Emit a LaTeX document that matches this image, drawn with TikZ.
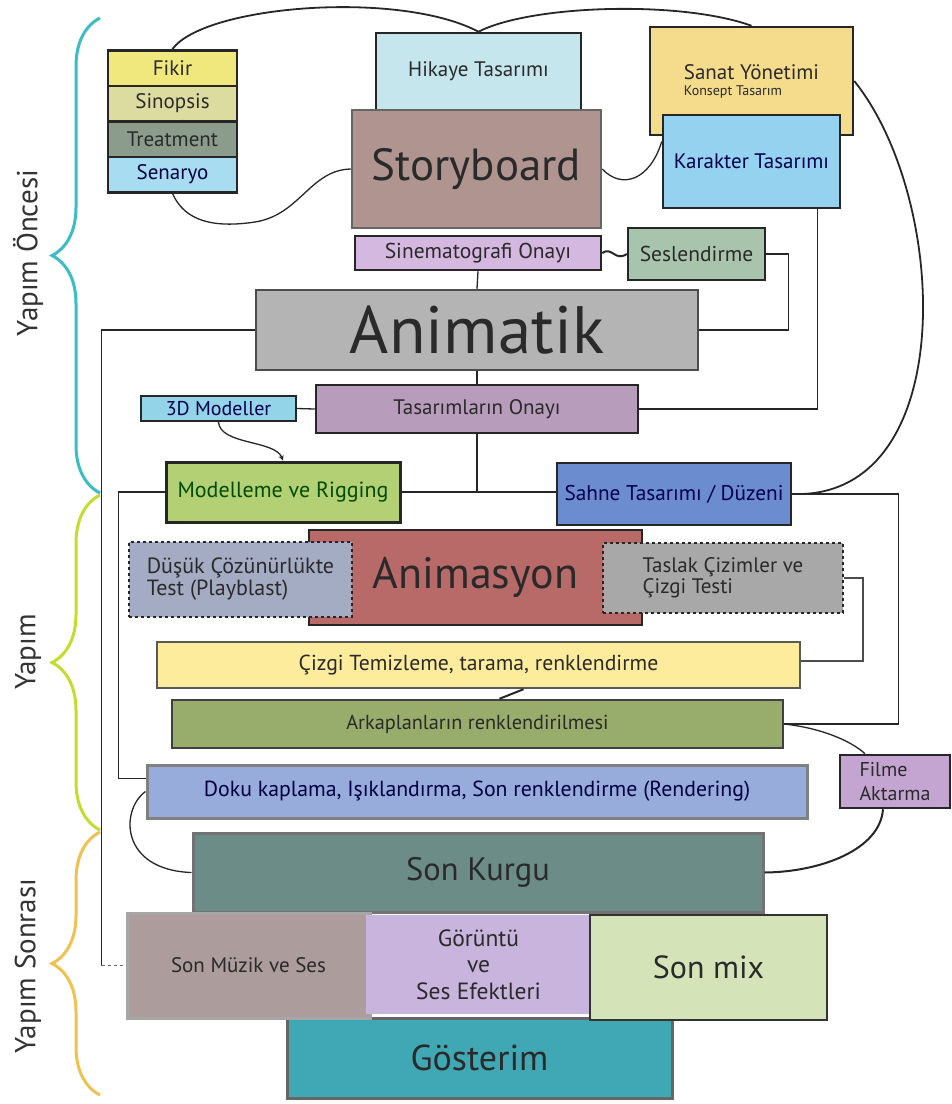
\documentclass[tikz,border=0pt]{standalone}
\usepackage{fontspec}
\setmainfont{PT Sans}
\usetikzlibrary{decorations.pathreplacing}

\definecolor{fikirC}{HTML}{F0E87C}
\definecolor{sinopsisC}{HTML}{DCDCA0}
\definecolor{treatmentC}{HTML}{8C9C8C}
\definecolor{senaryoC}{HTML}{A8DCF0}
\definecolor{hikayeC}{HTML}{C6E6EE}
\definecolor{storyC}{HTML}{B09490}
\definecolor{sanatC}{HTML}{F4DC8C}
\definecolor{karakterC}{HTML}{94D2F0}
\definecolor{sinemaC}{HTML}{D4B8E0}
\definecolor{seslenC}{HTML}{A8C4AC}
\definecolor{animatikC}{HTML}{B4B4B4}
\definecolor{modellerC}{HTML}{94D4E8}
\definecolor{tasarimC}{HTML}{B89CBC}
\definecolor{modellemeC}{HTML}{B4D074}
\definecolor{sahneC}{HTML}{6C8CD0}
\definecolor{animasyonC}{HTML}{B86A68}
\definecolor{dusukC}{HTML}{A4ACC4}
\definecolor{taslakC}{HTML}{A8A8A8}
\definecolor{cizgiC}{HTML}{FCEC9C}
\definecolor{arkaplanC}{HTML}{98AC6C}
\definecolor{dokuC}{HTML}{98ACDC}
\definecolor{filmeC}{HTML}{C4A4D0}
\definecolor{kurguC}{HTML}{6C8C88}
\definecolor{muzikC}{HTML}{AC9C9C}
\definecolor{goruntuC}{HTML}{C8B4DC}
\definecolor{mixC}{HTML}{D4E4B8}
\definecolor{gosterimC}{HTML}{40A8B4}
\definecolor{onceC}{HTML}{3CBCC4}
\definecolor{yapimC}{HTML}{C4DC2C}
\definecolor{sonraC}{HTML}{F0C050}
\definecolor{inkC}{HTML}{2A2A2A}

\begin{document}
\begin{tikzpicture}[x=1pt, y=-1pt,
  box/.style={draw=black!85, line width=2.5pt, inner sep=2pt, align=center, text=inkC},
  pale/.style={box, draw=black!50, line width=3pt},
  dashbox/.style={box, dashed, line width=2pt},
  link/.style={black!85, line width=1.3pt},
  fs/.style={font=\fontsize{#1}{#1}\selectfont},
  phase/.style={decorate, decoration={brace, amplitude=48pt}, line width=3pt}]
  \useasboundingbox (0,0) rectangle (952,1104);

  % Phase braces and their titles
  \draw[phase, draw=onceC] (100,493) -- (100,18);
  \draw[phase, draw=yapimC] (100,830) -- (100,495);
  \draw[phase, draw=sonraC] (100,1095) -- (100,832);
  \node[rotate=90, fs=29, text=black!80] (once) at (28,253) {Yapım Öncesi};
  \node[rotate=90, fs=29, text=black!80] (yapim) at (28,652) {Yapım};
  \node[rotate=90, fs=29, text=black!80] (sonra) at (28,966) {Yapım Sonrası};

  % Script stack
  \node[box, fill=fikirC, minimum width=129pt, minimum height=35.5pt, fs=21] (fikir) at (172.5,68) {Fikir};
  \node[box, fill=sinopsisC, minimum width=129pt, minimum height=35.5pt, fs=21] (sinopsis) at (172.5,103.5) {Sinopsis};
  \node[box, fill=treatmentC, minimum width=129pt, minimum height=35.5pt, fs=21] (treatment) at (172.5,139) {Treatment};
  \node[box, fill=senaryoC, minimum width=129pt, minimum height=35.5pt, fs=21, text=black!75!blue] (senaryo) at (172.5,174.5) {Senaryo};

  % Pre-production boxes
  \node[box, fill=hikayeC, minimum width=205pt, minimum height=77pt, fs=21] (hikaye) at (478.5,71.5) {Hikaye Tasarımı};
  \node[box, draw=black!60, fill=storyC, minimum width=249pt, minimum height=118pt, fs=45] (story) at (476.5,169) {Storyboard};
  \node[box, fill=sanatC, minimum width=203pt, minimum height=108pt, align=left] (sanat) at (751.5,81)
    {\fontsize{21}{21}\selectfont Sanat Yönetimi\\[4pt]\fontsize{14}{14}\selectfont Konsept Tasarım};
  \node[box, fill=karakterC, minimum width=177pt, minimum height=93pt, fs=21, text=black!70!blue] (karakter) at (751.5,161.5) {Karakter Tasarımı};
  \node[box, fill=sinemaC, minimum width=246pt, minimum height=34pt, fs=21.5] (sinema) at (478,253) {Sinematografi Onayı};
  \node[box, fill=seslenC, minimum width=137pt, minimum height=52pt, fs=21.5] (seslen) at (696.5,254) {Seslendirme};
  \node[box, draw=black!70, fill=animatikC, minimum width=442pt, minimum height=80pt, fs=67] (animatik) at (477,330) {Animatik};
  \node[box, line width=2pt, fill=modellerC, minimum width=155pt, minimum height=25pt, fs=20, text=black!70!blue] (modeller) at (218.5,408.5) {3D Modeller};
  \node[box, fill=tasarimC, minimum width=322pt, minimum height=48pt, fs=21] (tasarim) at (477,409) {Tasarımların Onayı};

  % Production boxes
  \node[box, line width=3pt, fill=modellemeC, minimum width=234pt, minimum height=60pt, fs=22, text=black!70!green] (modelleme) at (283,492) {Modelleme ve Rigging};
  \node[box, fill=sahneC, minimum width=234pt, minimum height=62pt, fs=21.3, text=black!70!blue] (sahne) at (674,494) {Sahne Tasarımı / Düzeni};
  \node[box, fill=animasyonC, minimum width=333pt, minimum height=95pt, fs=44] (animasyon) at (475.5,577.5) {Animasyon};
  \node[dashbox, fill=dusukC, minimum width=223pt, minimum height=75pt, fs=22, align=left] (dusuk) at (240.5,579.5) {Düşük Çözünürlükte\\Test (Playblast)};
  \node[dashbox, fill=taslakC, minimum width=240pt, minimum height=70pt, fs=21, align=left] (taslak) at (723,578) {Taslak Çizimler ve\\Çizgi Testi};
  \node[box, draw=black!65, fill=cizgiC, minimum width=643pt, minimum height=46pt, fs=21.7] (cizgi) at (478.5,665) {Çizgi Temizleme, tarama, renklendirme};
  \node[box, draw=black!75, fill=arkaplanC, minimum width=611pt, minimum height=48pt, fs=20.3] (arkaplan) at (477.5,724) {Arkaplanların renklendirilmesi};
  \node[pale, fill=dokuC, minimum width=660pt, minimum height=53pt, fs=21.8, text=black!75!blue] (doku) at (477,791.5) {Doku kaplama, Işıklandırma, Son renklendirme (Rendering)};
  \node[box, fill=filmeC, minimum width=110pt, minimum height=53pt, fs=20, align=left] (filme) at (895,781.5) {Filme\\[4pt]Aktarma};

  % Post-production boxes
  \node[pale, draw=black!55, fill=kurguC, minimum width=570pt, minimum height=79pt, fs=32.5] (kurgu) at (478,872.5) {Son Kurgu};
  \node[pale, draw=black!60, fill=gosterimC, minimum width=385pt, minimum height=80pt, fs=36] (gosterim) at (479.5,1058) {Gösterim};
  \node[pale, draw=black!35, fill=muzikC, minimum width=243pt, minimum height=105pt, fs=21] (muzik) at (248.5,965.5) {Son Müzik ve Ses};
  \node[box, draw=goruntuC, fill=goruntuC, minimum width=223pt, minimum height=97pt, fs=23.5] (goruntu) at (478.5,964.5) {Görüntü\\[3pt]ve\\[3pt]Ses Efektleri};
  \node[box, draw=black!80, fill=mixC, minimum width=237pt, minimum height=105pt, fs=32] (mix) at (708.5,967.5) {Son mix};

  % Top arcs
  \draw[link, line width=1.8pt] (fikir.north) .. controls (205,5) and (400,-10) .. (hikaye.north);
  \draw[link, line width=1.8pt] (hikaye.north) .. controls (530,5) and (680,0) .. (sanat.north);
  \draw[link] (senaryo.south) .. controls (185,222) and (215,228) .. (255,222) .. controls (300,215) and (310,170) .. (story.west);
  \draw[link] (story.east) .. controls (622,190) and (650,180) .. ([yshift=20pt]karakter.west);
  \draw[link, line width=2pt] (sinema.east) .. controls (612,246) and (615,262) .. (seslen.west);
  \draw[link, line width=1.8pt] (sanat.east) .. controls (950,200) and (960,500) .. (sahne.east);

  % Elbows
  \draw[link] (seslen.east) -- ++(22,0) |- (animatik.east);
  \draw[link] ([xshift=66pt]karakter.south) |- (tasarim.east);
  \draw[link] (sinema.south) -- (animatik.north);
  \draw[link] (animatik.south) -- (tasarim.north);
  \draw[link] (modeller.east) -- (tasarim.west);
  \draw[link] (tasarim.south) -- (tasarim.south |- modelleme.east);
  \draw[link] (modelleme.east) -- (modelleme.east -| sahne.west);
  \draw[link, -stealth] (modeller.south) .. controls (220,445) and (275,440) .. (modelleme.north);

  % Frames round the production
  \coordinate (railend) at ([xshift=-24pt]muzik.west);
  \draw[link] (animatik.west) -- ++(-153,0) |- (railend);
  \draw[link, dashed, black!60] (railend) -- (muzik.west);
  \draw[link] (modelleme.west) -- ++(-46,0) |- ([yshift=13pt]doku.west);
  \draw[link] (sahne.east) -- ++(106,0) |- (arkaplan.east);
  \draw[link, black!70] (taslak.east) -- ++(19,0) |- ([yshift=4pt]cizgi.east);
  \draw[link, line width=2pt] ([xshift=45pt]cizgi.south) -- ([xshift=22pt]arkaplan.north);

  % To the final cut
  \draw[link] (arkaplan.east) .. controls (820,728) and (850,740) .. ([xshift=-30pt]filme.north);
  \draw[link, line width=2pt] ([xshift=-12pt]filme.south) .. controls (880,850) and (820,872) .. (kurgu.east);
  \draw[link] (doku.west) .. controls (120,810) and (120,870) .. (kurgu.west);
\end{tikzpicture}
\end{document}
